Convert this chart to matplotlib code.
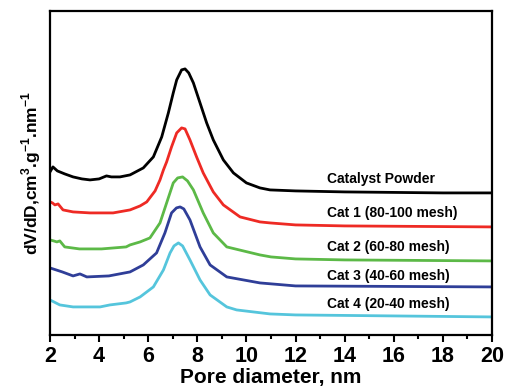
import matplotlib
matplotlib.use("Agg")
import matplotlib.pyplot as plt
from matplotlib.ticker import MultipleLocator

plt.rcParams['font.family'] = ['Liberation Sans', 'DejaVu Sans']
plt.rcParams['font.weight'] = 'bold'
plt.rcParams['mathtext.fontset'] = 'custom'
plt.rcParams['mathtext.rm'] = 'Liberation Sans:bold'
plt.rcParams['mathtext.bf'] = 'Liberation Sans:bold'

# pore size distributions (offset for display, arbitrary units)
x_powder = [2.0, 2.12, 2.3, 2.6, 2.94, 3.3, 3.63, 4.0, 4.3, 4.5, 4.85, 5.26, 5.8, 6.21, 6.55,
            6.82, 7.02, 7.16, 7.36, 7.5, 7.65, 7.84, 8.11, 8.38, 8.65, 9.06, 9.47, 10.0, 10.55,
            10.96, 12, 14, 16, 18, 20]
y_powder = [163, 168, 164, 161, 158, 156, 155, 156, 159, 158, 158, 160, 167, 178, 198,
            222, 242, 255, 265, 266, 262, 252, 232, 212, 195, 175, 162, 152, 147,
            145, 144, 143, 142.5, 142, 142]

x_cat1 = [2.0, 2.1, 2.2, 2.33, 2.53, 2.94, 3.63, 4.57, 5.26, 5.67, 5.94, 6.28, 6.48, 6.62,
          6.75, 6.95, 7.16, 7.36, 7.5, 7.7, 7.97, 8.24, 8.52, 8.65, 9.06, 9.74, 10.55,
          10.96, 12, 14, 20]
y_cat1 = [133, 132, 130, 131, 125, 123, 122, 122, 125, 129, 133, 144, 155, 165,
          173, 188, 202, 207, 206, 195, 178, 162, 149, 143, 130, 118, 113,
          112, 110, 109, 108]

x_cat2 = [2.0, 2.15, 2.28, 2.4, 2.6, 3.2, 4.1, 5.1, 5.26, 5.67, 6.07, 6.48, 6.75, 7.02,
          7.2, 7.4, 7.6, 7.84, 8.24, 8.65, 9.2, 10.55, 11, 12, 14, 20]
y_cat2 = [95, 94, 93, 94, 88, 86, 86, 88, 90, 93, 97, 112, 132, 152,
          157, 158, 154, 145, 122, 102, 88, 80, 78, 76, 75, 74]

x_cat3 = [2.0, 2.5, 2.94, 3.22, 3.5, 4.4, 5.26, 5.8, 6.34, 6.68, 6.95, 7.15, 7.3, 7.45,
          7.7, 8.11, 8.52, 9.2, 10.55, 12, 20]
y_cat3 = [67, 63, 59, 61, 58, 59, 63, 70, 82, 102, 122, 127, 128, 126,
          115, 88, 70, 58, 52, 49, 48]

x_cat4 = [2.0, 2.4, 2.94, 4.04, 4.44, 5.1, 5.26, 5.67, 6.21, 6.62, 6.89, 7.05, 7.23, 7.4,
          7.7, 8.11, 8.52, 9.2, 9.6, 10.96, 12, 20]
y_cat4 = [35, 30, 28, 28, 30, 32, 33, 38, 48, 65, 82, 89, 92, 89,
          75, 55, 40, 28, 25, 21, 20, 18]

labels = ['Catalyst Powder', 'Cat 1 (80-100 mesh)', 'Cat 2 (60-80 mesh)',
          'Cat 3 (40-60 mesh)', 'Cat 4 (20-40 mesh)']
label_y = [156, 122, 88, 59, 31]
colors = ['#000000', '#ee2a24', '#5cb947', '#2f3e98', '#55c5dc']

fig = plt.figure(figsize=(5.06, 3.89), dpi=100)
ax = fig.add_axes([0.0988, 0.139, 0.8735, 0.833])

series = [(x_powder, y_powder), (x_cat1, y_cat1), (x_cat2, y_cat2),
          (x_cat3, y_cat3), (x_cat4, y_cat4)]
for (xs, ys), c in zip(series, colors):
    ax.plot(xs, ys, color=c, lw=2.0, solid_joinstyle='round')

for lab, ly in zip(labels, label_y):
    ax.text(13.3, ly, lab, fontsize=10, fontweight='bold', va='center', ha='left')

ax.set_xlim(2, 20)
ax.set_ylim(0, 324)
ax.xaxis.set_major_locator(MultipleLocator(2))
ax.xaxis.set_minor_locator(MultipleLocator(1))
ax.set_yticks([])
ax.tick_params(axis='x', which='major', direction='out', length=5, width=1.5,
               labelsize=15.5, pad=3)
ax.tick_params(axis='x', which='minor', direction='out', length=3, width=1.5)
for s in ax.spines.values():
    s.set_linewidth(1.6)

ax.set_xlabel('Pore diameter, nm', fontsize=15, fontweight='bold', labelpad=1)
ax.set_ylabel(r'dV/dD,cm$^{3}$.g$^{-1}$.nm$^{-1}$', fontsize=12.5, fontweight='bold', labelpad=5)

fig.savefig('out.png', dpi=100)
